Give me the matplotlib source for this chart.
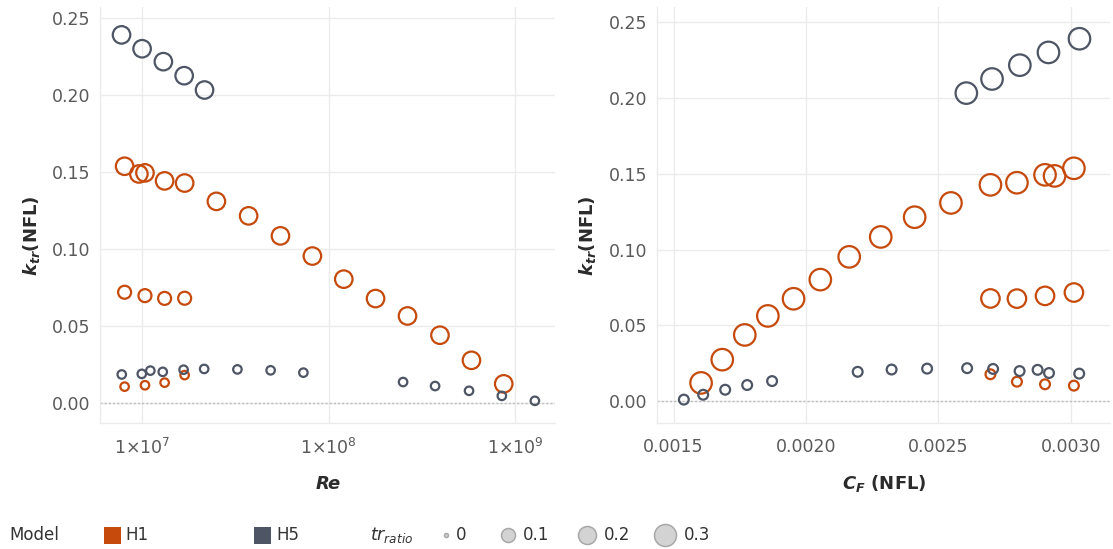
import numpy as np
import matplotlib
matplotlib.use("Agg")
import matplotlib.pyplot as plt
from matplotlib.ticker import FixedLocator, FixedFormatter

# H1 runs: main sweep, then the two shorter sweeps at low Re
h1_re = [8.06e6, 9.61e6, 1.036e7, 1.32e7, 1.69e7, 2.50e7, 3.72e7, 5.51e7,
         8.17e7, 1.203e8, 1.78e8, 2.64e8, 3.94e8, 5.81e8, 8.65e8,
         8.06e6, 1.036e7, 1.32e7, 1.69e7,
         8.06e6, 1.036e7, 1.32e7, 1.69e7]
h1_cf = [0.003011, 0.002938, 0.002902, 0.002796, 0.002696, 0.002547, 0.002410,
         0.002282, 0.002163, 0.002054, 0.001953, 0.001856, 0.001769, 0.001684,
         0.001604,
         0.003011, 0.002902, 0.002796, 0.002696,
         0.003011, 0.002902, 0.002796, 0.002696]
h1_ktr = [0.1535, 0.1485, 0.1492, 0.1440, 0.1426, 0.1307, 0.1213, 0.1083,
          0.0952, 0.0802, 0.0676, 0.0563, 0.0438, 0.0275, 0.0122,
          0.0717, 0.0695, 0.0677, 0.0678,
          0.0104, 0.0113, 0.0130, 0.0179]
h1_tr = [0.3, 0.3, 0.3, 0.3, 0.3, 0.3, 0.3, 0.3, 0.3, 0.3, 0.3, 0.3, 0.3, 0.3, 0.3,
         0.2, 0.2, 0.2, 0.2,
         0.1, 0.1, 0.1, 0.1]

# H5 runs
h5_re = [7.76e6, 1.0e7, 1.30e7, 1.68e7, 2.16e7,
         7.78e6, 9.96e6, 1.107e7, 1.29e7, 1.668e7, 2.15e7, 3.24e7, 4.88e7,
         7.31e7, 2.50e8, 3.71e8, 5.64e8, 8.45e8, 1.27e9]
h5_cf = [0.003032, 0.002915, 0.002807, 0.002702, 0.002605,
         0.003031, 0.002917, 0.002874, 0.002806, 0.002706, 0.002608, 0.002457,
         0.002323, 0.002195, 0.001872, 0.001778, 0.001695, 0.001612, 0.001539]
h5_ktr = [0.2388, 0.2298, 0.2214, 0.2123, 0.2030,
          0.0183, 0.0187, 0.0208, 0.0200, 0.0214, 0.0219, 0.0216, 0.0210,
          0.0195, 0.0134, 0.0108, 0.0077, 0.0044, 0.0012]
h5_tr = [0.3, 0.3, 0.3, 0.3, 0.3,
         0.1, 0.1, 0.1, 0.1, 0.1, 0.1, 0.1, 0.1, 0.1, 0.1, 0.1, 0.1, 0.1, 0.1]

models = ["H1", "H5"]
colors = {"H1": "#C64A0C", "H5": "#4E5565"}

y_ticks = [0.0, 0.05, 0.10, 0.15, 0.20, 0.25]
re_ticks = [1e7, 1e8, 1e9]
re_labels = [r"$\mathdefault{1{\times}10^{7}}$", r"$\mathdefault{1{\times}10^{8}}$",
             r"$\mathdefault{1{\times}10^{9}}$"]
cf_ticks = [0.0015, 0.0020, 0.0025, 0.0030]
cf_labels = ["0.0015", "0.0020", "0.0025", "0.0030"]

tr_breaks = [0, 0.1, 0.2, 0.3]

W, H = 1113, 549
fig = plt.figure(figsize=(W / 100, H / 100), dpi=100)
fig.patch.set_facecolor("white")


def px_axes(x0, y0, x1, y1, **kw):
    return fig.add_axes([x0 / W, 1 - y1 / H, (x1 - x0) / W, (y1 - y0) / H], **kw)


def marker_area(tr, diam_px):
    # diameter in pixels -> scatter area in points^2
    d = np.interp(tr, tr_breaks, diam_px)
    return (d * 0.72) ** 2


def style_axes(ax):
    ax.set_facecolor("white")
    for side in ["top", "right"]:
        ax.spines[side].set_visible(False)
    for side in ["left", "bottom"]:
        ax.spines[side].set_color("#EBEBEB")
        ax.spines[side].set_linewidth(1)
    ax.grid(True, color="#EBEBEB", lw=1)
    ax.set_axisbelow(True)
    ax.tick_params(length=0, labelsize=12.5, labelcolor="#5A5A5A")
    ax.tick_params(axis="y", pad=7)
    ax.tick_params(axis="x", pad=11)
    ax.yaxis.set_major_locator(FixedLocator(y_ticks))
    ax.yaxis.set_major_formatter(FixedFormatter(["%.2f" % v for v in y_ticks]))
    ax.axhline(0, color="#BDBDBD", lw=1, ls=(0, (1.5, 1.5)), zorder=1)


data = {
    "H1": (h1_re, h1_cf, h1_ktr, h1_tr),
    "H5": (h5_re, h5_cf, h5_ktr, h5_tr),
}

# left panel: k_tr against Re
ax1 = px_axes(100, 7, 555, 423)
style_axes(ax1)
ax1.set_xscale("log")
ax1.set_xlim(5.95e6, 1.628e9)
ax1.set_ylim(-0.0132, 0.2569)
ax1.xaxis.set_major_locator(FixedLocator(re_ticks))
ax1.xaxis.set_major_formatter(FixedFormatter(re_labels))
ax1.xaxis.set_minor_locator(FixedLocator([]))
for m in models:
    re, cf, k, tr = data[m]
    ax1.scatter(re, k, s=marker_area(tr, [2, 8.5, 13, 17.5]), facecolors="none",
                edgecolors=colors[m], linewidths=1.6, zorder=3)

# right panel: k_tr against C_F
ax2 = px_axes(657, 7, 1110, 423)
style_axes(ax2)
ax2.set_xlim(0.0014377, 0.0031472)
ax2.set_ylim(-0.0142, 0.2597)
ax2.xaxis.set_major_locator(FixedLocator(cf_ticks))
ax2.xaxis.set_major_formatter(FixedFormatter(cf_labels))
for m in models:
    re, cf, k, tr = data[m]
    ax2.scatter(cf, k, s=marker_area(tr, [2, 9.8, 18.5, 21.5]), facecolors="none",
                edgecolors=colors[m], linewidths=1.6, zorder=3)

title_kw = dict(fontsize=13, fontweight="bold", color="#2B2B2B")
ylab = r"$\mathbfit{k}_{\mathbfit{tr}}$(NFL)"
fig.text(32 / W, 1 - 236 / H, ylab, rotation=90, ha="center", va="center", **title_kw)
fig.text(588 / W, 1 - 236 / H, ylab, rotation=90, ha="center", va="center", **title_kw)
fig.text(328 / W, 1 - 484 / H, "Re", ha="center", va="center", fontstyle="italic",
         **title_kw)
fig.text(884 / W, 1 - 484 / H, r"$\mathbfit{C}_{\mathbfit{F}}$ (NFL)", ha="center",
         va="center", **title_kw)

# legend strip along the bottom
lg = fig.add_axes([0, 0, 1, 1], zorder=5)
lg.set_xlim(0, W)
lg.set_ylim(H, 0)
lg.axis("off")
ly = 535
txt = dict(fontsize=12, color="#333333", va="center")
lg.text(9, ly, "Model", **txt)
for m, xs in zip(models, [111.5, 262]):
    lg.scatter([xs], [ly], marker="s", s=(17 * 0.72) ** 2, color=colors[m], lw=0)
    lg.text(xs + 14, ly, m, **txt)
lg.text(370, ly, r"$tr_{ratio}$", fontsize=12.5, color="#333333", va="center")
leg_x = [446, 508, 587, 665]
leg_d = [4, 14, 18, 22]
for v, xs, d in zip(tr_breaks, leg_x, leg_d):
    lg.scatter([xs], [ly], s=(d * 0.72) ** 2, facecolors="#D3D3D3",
               edgecolors="#A8A8A8", linewidths=1.1)
    lg.text(xs + d / 2 + 8, ly, ("%g" % v), **txt)

fig.savefig("out.png", dpi=100, facecolor="white")
